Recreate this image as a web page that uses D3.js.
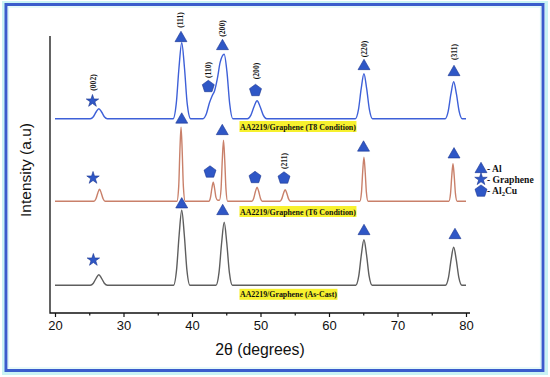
<!DOCTYPE html>
<html><head><meta charset="utf-8">
<script src="https://cdn.jsdelivr.net/npm/d3@7/dist/d3.min.js"></script>
<style>body{margin:0;background:#fff}svg{display:block}</style>
</head><body>
<svg id="c" width="550" height="377"></svg>
<script>
// ---- data (2θ in degrees, intensity in a.u. above each pattern's own baseline) ----
const xTicks = [20, 30, 40, 50, 60, 70, 80];
const xMinorTicks = [25, 35, 45, 55, 65, 75];
const seriesNames = ["AA2219/Graphene (T8 Condition)", "AA2219/Graphene (T6 Condition)", "AA2219/Graphene (As-Cast)"];
const seriesOffsets = [194.3, 111.8, 27.7];

const t8 = [[20,0],[25.15,0],[25.6,2],[26.0,6.7],[26.4,10],[26.8,6.7],[27.2,2],[27.65,0],
  [37.25,0],[37.7,15],[38.1,51],[38.5,76],[38.9,51],[39.3,15],[39.8,0],
  [41.6,0],[42.1,5],[42.55,16],[42.95,23],[43.3,28],[43.7,40],[44.1,56],[44.7,64.5],[45.1,47],[45.5,15],[45.95,0],
  [48.1,0],[48.6,3.6],[49.05,12],[49.5,18],[49.95,12],[50.4,3.6],[50.9,0],
  [63.85,0],[64.3,9],[64.7,30],[65.1,45],[65.5,30],[65.9,9],[66.35,0],
  [76.95,0],[77.4,7.4],[77.8,24.8],[78.2,37],[78.6,24.8],[79.0,7.4],[79.45,0],[80,0]];
const t6 = [[20,0],[25.7,0],[25.98,2.4],[26.24,8],[26.5,12],[26.76,8],[27.02,2.4],[27.3,0],
  [37.8,0],[38.06,14.8],[38.23,50],[38.4,74],[38.57,50],[38.74,14.8],[39.0,0],
  [42.5,0],[42.7,3.8],[42.9,12.7],[43.1,19],[43.3,12.7],[43.5,3.8],[43.75,1],
  [44.0,1],[44.24,12],[44.42,41],[44.6,61],[44.78,41],[44.96,12],[45.2,0],
  [48.75,0],[49.0,2.8],[49.25,9.4],[49.5,14],[49.75,9.4],[50.0,2.8],[50.25,0],
  [52.85,0],[53.1,2.3],[53.35,7.7],[53.6,11.5],[53.85,7.7],[54.1,2.3],[54.35,0],
  [64.5,0],[64.74,8.8],[64.92,29.5],[65.1,44],[65.28,29.5],[65.46,8.8],[65.7,0],
  [77.5,0],[77.74,7.5],[77.92,25],[78.1,37.5],[78.28,25],[78.46,7.5],[78.7,0],[80,0]];
const asCast = [[20,0],[25.15,0],[25.6,2.1],[26.0,7],[26.4,10.5],[26.8,7],[27.2,2.1],[27.65,0],
  [37.3,0],[37.74,15],[38.12,50],[38.5,75],[38.88,50],[39.26,15],[39.7,0],
  [43.5,0],[43.94,12.6],[44.32,42],[44.7,63],[45.08,42],[45.46,12.6],[45.9,0],
  [63.9,0],[64.34,9.1],[64.72,30.5],[65.1,45.5],[65.48,30.5],[65.86,9.1],[66.3,0],
  [77.0,0],[77.44,7.6],[77.82,25.5],[78.2,38],[78.58,25.5],[78.96,7.6],[79.4,0],[80,0]];

// phase markers: [phase, 2θ, stacked intensity]
const markersT8 = [["G",25.47,212],["Al",38.39,276],["Cu",42.38,227],["Al",44.45,268],["Cu",49.27,223],["Al",65.11,248],["Al",78.25,242]];
const markersT6 = [["G",25.55,135],["Al",38.5,194.5],["Cu",42.63,141.5],["Al",44.42,183],["Cu",49.2,136],["Cu",53.43,135.5],["Al",65.04,166.5],["Al",78.25,159.7]];
const markersCast = [["G",25.6,53],["Al",38.5,109.7],["Al",44.48,103],["Al",65.11,83],["Al",78.39,79]];
// Miller index labels: [text, 2θ, stacked intensity]
const hklLabels = [["(002)",25.55,230.5],["(111)",38.25,293],["(110)",42.34,243],["(200)",44.45,284.5],["(200)",49.34,242],["(220)",65.11,264],["(311)",78.25,261],["(211)",53.5,152]];
const legendItems = [["Al","- Al"],["G","- Graphene"],["Cu","- Al"]];

// ---- drawing ----
const svg = d3.select("#c");
const x = d3.scaleLinear().domain([20, 80]).range([55, 466]);
const y = d3.scaleLinear().domain([0, 277]).range([313, 36]);
const serif = "'Liberation Serif','DejaVu Serif',serif";
const sans = "'Liberation Sans',Arial,sans-serif";

// frame
svg.append("rect").attr("x",3.5).attr("y",2.5).attr("width",543).attr("height",371)
  .attr("fill","none").attr("stroke","#c9f3f4").attr("stroke-width",3);
svg.append("rect").attr("x",6).attr("y",4.5).attr("width",537).attr("height",366)
  .attr("fill","#fff").attr("stroke","#3a5ccc").attr("stroke-width",3);
svg.append("rect").attr("x",8.5).attr("y",7).attr("width",532).attr("height",361)
  .attr("fill","none").attr("stroke","#d8f6f6").attr("stroke-width",1.2);

// axes
const ax = svg.append("g").attr("transform","translate(0,313)")
  .call(d3.axisBottom(x).tickValues(xTicks).tickSize(4).tickPadding(4).tickFormat(d3.format("d")));
ax.select(".domain").remove();
ax.selectAll("text").attr("font-family",sans).attr("font-size",13).attr("fill","#111");
ax.selectAll("line").attr("stroke","#111").attr("stroke-width",1.2);
svg.append("g").attr("transform","translate(0,313)")
  .call(d3.axisBottom(x).tickValues(xMinorTicks).tickSize(2.5).tickFormat(""))
  .call(g=>g.select(".domain").remove())
  .selectAll("line").attr("stroke","#111").attr("stroke-width",1.2);
svg.append("path").attr("d","M50,36V313H470").attr("fill","none").attr("stroke","#111").attr("stroke-width",1.3);

svg.append("text").attr("x",260).attr("y",355).attr("text-anchor","middle")
  .attr("font-family",sans).attr("font-size",15.8).attr("fill","#111").text("2θ (degrees)");
svg.append("text").attr("transform","translate(31,170) rotate(-90)").attr("text-anchor","middle")
  .attr("font-family",sans).attr("font-size",15.5).attr("fill","#111").text("Intensity (a.u)");

// curves
const colors = ["#3e60d8","#c9806a","#5e5e5e"];
const patterns = [t8, t6, asCast];
patterns.forEach((p,i)=>{
  const line = d3.line().x(d=>x(d[0])).y(d=>y(d[1]+seriesOffsets[i])).curve(d3.curveMonotoneX);
  svg.append("path").datum(p).attr("d",line).attr("fill","none")
    .attr("stroke",colors[i]).attr("stroke-width",1.4).attr("stroke-linejoin","round");
});

// symbols
const mFill = "#2f57c6", mStroke = "#1b3690";
function pentagon(r){
  const pts = d3.range(5).map(k=>{const a=-Math.PI/2+k*2*Math.PI/5;return [r*Math.cos(a), r*Math.sin(a)];});
  return "M"+pts.map(q=>q.join(",")).join("L")+"Z";
}
function shape(type){
  if(type==="Al") return d3.symbol(d3.symbolTriangle, 62)();
  if(type==="G") return d3.symbol(d3.symbolStar, 48)();
  return pentagon(6.3);
}
function drawMarker(type, px, py){
  const dy = type==="Al" ? 1.2 : (type==="Cu" ? 0.6 : 0);
  svg.append("path").attr("d",shape(type)).attr("transform",`translate(${px},${py+dy})`)
    .attr("fill",mFill).attr("stroke",mStroke).attr("stroke-width",0.6);
}
[markersT8, markersT6, markersCast].forEach(ms=>ms.forEach(m=>drawMarker(m[0], x(m[1]), y(m[2]))));

// hkl labels
hklLabels.forEach(l=>{
  svg.append("text").attr("transform",`translate(${x(l[1])+2.8},${y(l[2])}) rotate(-90)`)
    .attr("text-anchor","middle").attr("font-family",serif).attr("font-weight","bold")
    .attr("font-size",7.6).attr("fill","#111").text(l[0]);
});

// pattern name labels with yellow highlight
const nameWidths = [116, 116, 97];
const nameDy = [7.8, 10.3, 9.0];
seriesNames.forEach((n,i)=>{
  const cx = x(47.0), cy = y(seriesOffsets[i]) + nameDy[i];
  svg.append("rect").attr("x",cx-0.5).attr("y",cy-5.5).attr("width",nameWidths[i]+1).attr("height",11).attr("fill","#f7f12e");
  svg.append("text").attr("x",cx).attr("y",cy+3).attr("font-family",serif).attr("font-weight","bold")
    .attr("font-size",8.4).attr("fill","#111").attr("textLength",nameWidths[i]).attr("lengthAdjust","spacingAndGlyphs").text(n);
});

// legend
legendItems.forEach((it,i)=>{
  const ly = 168 + i*11.3;
  drawMarker(it[0], 481, ly);
  const t = svg.append("text").attr("x",487).attr("y",ly+3.5).attr("font-family",serif)
    .attr("font-weight","bold").attr("font-size",9.6).attr("fill","#111").text(it[1]);
  if(it[0]==="Cu"){
    t.append("tspan").attr("font-size",6.5).attr("dy",2).text("2");
    t.append("tspan").attr("dy",-2).text("Cu");
  }
});
</script>
</body></html>
